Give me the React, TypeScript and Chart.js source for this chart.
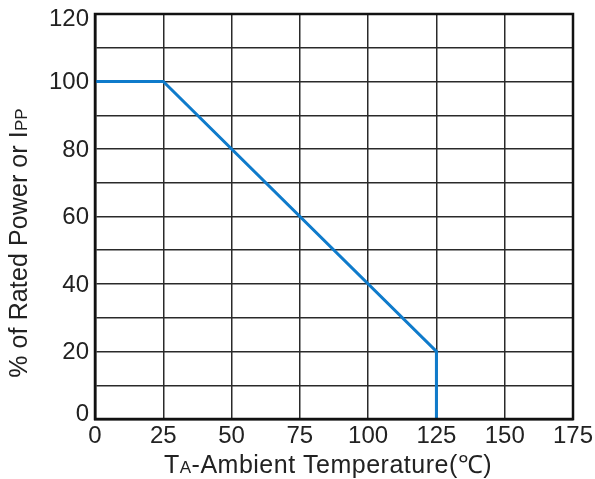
import React, { useEffect, useRef } from "react";
import { Chart, registerables } from "chart.js";

Chart.register(...registerables);

const temperatures = [0, 25, 125, 125];
const ratedPercent = [100, 100, 20, 0];
const xTicks = [0, 25, 50, 75, 100, 125, 150, 175];
const yLabelTicks = [0, 20, 40, 60, 80, 100, 120];

const FONT = "'Liberation Sans', Arial, sans-serif";
const TEXT = "#222";

function drawParts(ctx: any, parts: [string, string][], x: number, y: number, spacing: string) {
  ctx.letterSpacing = spacing;
  let total = 0;
  for (const [t, f] of parts) {
    ctx.font = f;
    total += ctx.measureText(t).width;
  }
  let cx = x - total / 2;
  for (const [t, f] of parts) {
    ctx.font = f;
    ctx.textAlign = "left";
    ctx.fillText(t, cx, y);
    cx += ctx.measureText(t).width;
  }
}

const labelsPlugin = {
  id: "labels",
  afterDraw(chart: any) {
    const ctx = chart.ctx;
    const a = chart.chartArea;
    const xs = chart.scales.x;
    const ys = chart.scales.y;
    ctx.save();
    ctx.fillStyle = TEXT;
    ctx.font = `24px ${FONT}`;
    ctx.textAlign = "right";
    ctx.textBaseline = "middle";
    for (const v of yLabelTicks) {
      let py = ys.getPixelForValue(v);
      if (v === ys.max) py += 4;
      if (v === ys.min) py -= 6;
      ctx.fillText(String(v), 89, py + 1);
    }
    ctx.textAlign = "center";
    ctx.textBaseline = "middle";
    for (const v of xTicks) {
      ctx.fillText(String(v), xs.getPixelForValue(v), a.bottom + 17);
    }
    ctx.textBaseline = "alphabetic";
    const big = `25px ${FONT}`;
    const small = `17px ${FONT}`;
    drawParts(
      ctx,
      [
        ["T", big],
        ["A", small],
        ["-Ambient Temperature(℃)", big],
      ],
      328,
      473,
      "0.5px"
    );
    ctx.translate(27, 243);
    ctx.rotate(-Math.PI / 2);
    drawParts(
      ctx,
      [
        ["% of Rated Power or I", big],
        ["PP", small],
      ],
      0,
      0,
      "0.1px"
    );
    ctx.restore();
  },
};

const framePlugin = {
  id: "frame",
  afterDraw(chart: any) {
    const { ctx, chartArea: a } = chart;
    ctx.save();
    ctx.strokeStyle = "#111";
    ctx.lineWidth = 2.5;
    ctx.strokeRect(a.left, a.top, a.right - a.left, a.bottom - a.top);
    ctx.restore();
  },
};

export default function App() {
  const ref = useRef<HTMLCanvasElement | null>(null);
  useEffect(() => {
    document.body.style.margin = "0";
    const canvas = ref.current!;
    const chart = new Chart(canvas, {
      type: "line",
      data: {
        datasets: [
          {
            data: temperatures.map((t, i) => ({ x: t, y: ratedPercent[i] })),
            borderColor: "#0f7bcb",
            borderWidth: 3,
            pointRadius: 0,
            tension: 0,
            fill: false,
          },
        ],
      },
      options: {
        animation: false,
        responsive: false,
        devicePixelRatio: 1,
        layout: { padding: { left: 0, top: 14, right: 22, bottom: 0 } },
        plugins: { legend: { display: false }, tooltip: { enabled: false } },
        scales: {
          x: {
            type: "linear",
            min: 0,
            max: 175,
            afterFit(scale: any) {
              scale.height = 60;
            },
            afterBuildTicks(scale: any) {
              scale.ticks = xTicks.map((v) => ({ value: v }));
            },
            grid: { color: "#2a2a2a", lineWidth: 1.5, drawTicks: false },
            border: { color: "#111", width: 2.5 },
            ticks: { display: false },
          },
          y: {
            type: "linear",
            min: 0,
            max: 120,
            afterFit(scale: any) {
              scale.width = 95;
            },
            ticks: { display: false, stepSize: 10 },
            grid: { color: "#2a2a2a", lineWidth: 1.5, drawTicks: false },
            border: { color: "#111", width: 2.5 },
          },
        },
      },
      plugins: [labelsPlugin, framePlugin],
    } as any);
    return () => chart.destroy();
  }, []);
  return <canvas ref={ref} width={595} height={479} style={{ display: "block" }} />;
}
